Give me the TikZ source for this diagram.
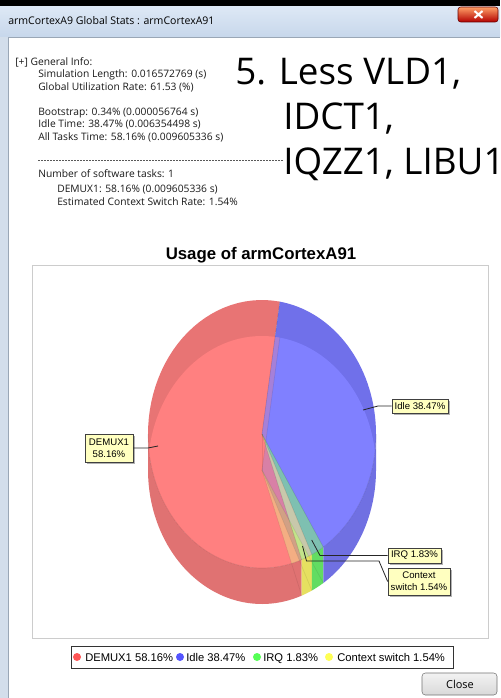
\documentclass[tikz,border=0pt]{standalone}
\usepackage{fontspec}
\newfontfamily\uifont{Open Sans}
\newfontfamily\arfont{Liberation Sans}
\usetikzlibrary{shadows}
\definecolor{framebg}{HTML}{D3DEEB}
\definecolor{tbtop}{HTML}{DDE8F5}
\definecolor{tbbot}{HTML}{C7D7EB}
\definecolor{framebd}{HTML}{9AA7B6}
\definecolor{redD}{HTML}{E87474}
\definecolor{redF}{HTML}{FF8080}
\definecolor{redW}{HTML}{E07272}
\definecolor{blueD}{HTML}{7070EA}
\definecolor{blueF}{HTML}{8080FF}
\definecolor{blueW}{HTML}{7070E2}
\definecolor{greenD}{HTML}{74D888}
\definecolor{greenF}{HTML}{7EDC90}
\definecolor{greenW}{HTML}{62DC62}
\definecolor{yelD}{HTML}{E4E484}
\definecolor{yelF}{HTML}{E8E888}
\definecolor{yelW}{HTML}{E6E060}
\definecolor{lblfill}{HTML}{FFFFC0}
\definecolor{legR}{HTML}{FF5555}
\definecolor{legB}{HTML}{5555FF}
\definecolor{legG}{HTML}{55FF55}
\definecolor{legY}{HTML}{FFFF55}
\def\PX{262}\def\TY{434}\def\BY{470}\def\RX{114}\def\RY{134}
\tikzset{
  sector/.style n args={3}{insert path={(\PX,#1) -- plot[domain=#2:#3,samples=60,variable=\t]({\PX+\RX*cos(\t)},{#1-\RY*sin(\t)}) -- cycle}},
  wall/.style n args={2}{insert path={plot[domain=#1:#2,samples=50,variable=\t]({\PX+\RX*cos(\t)},{\TY-\RY*sin(\t)}) -- plot[domain=#2:#1,samples=50,variable=\t]({\PX+\RX*cos(\t)},{\BY-\RY*sin(\t)}) -- cycle}},
  info/.style={anchor=base west, inner sep=0, font=\uifont\fontsize{7.7}{9}\selectfont, text=black!90},
  big/.style={anchor=base west, inner sep=0, font=\uifont\fontsize{27.6}{30}\selectfont, text=black},
  lbl/.style={draw=black!75, line width=0.5pt, fill=lblfill, inner sep=0, align=center,
    font=\arfont\fontsize{7.2}{9}\selectfont,
    drop shadow={shadow xshift=1.5pt, shadow yshift=-1.5pt, fill=black, opacity=0.3}},
  leader/.style={draw=black!85, line width=0.6pt},
  legtxt/.style={anchor=base west, inner sep=0, font=\arfont\fontsize{8.4}{10}\selectfont},
  legdot/.style={circle, inner sep=0, minimum size=6pt}
}
\begin{document}
\begin{tikzpicture}[x=0.75pt,y=-0.75pt]
\useasboundingbox (0,0) rectangle (500,698);
\clip (0,0) rectangle (500,698);
% window frame
\fill[framebg] (0,0) rectangle (500,698);
\fill[black] (0,0) rectangle (500,7);
\shade[top color=tbtop, bottom color=tbbot] (0,7) rectangle (500,37);
\fill[white] (8,37) rectangle (500,698);
\draw[framebd, line width=0.75pt] (8.5,698) -- (8.5,37.5) -- (500,37.5);
\node[anchor=base west, inner sep=0, font=\uifont\fontsize{7.9}{9}\selectfont] (wtitle) at (8,25) {armCortexA9 Global Stats : armCortexA91};
% close x
\shade[top color=red!25!orange!60!white, bottom color=red!70!black, draw=red!40!black, rounded corners=2pt] (458,7) rectangle (498,22);
\draw[white, line width=1.5pt] (474.5,11) -- (482.5,18) (482.5,11) -- (474.5,18);
% info text
\node[info] (gi) at (15,65.5) {[+] General Info:};
\node[info] (sl) at (38,78) {Simulation Length: 0.016572769 (s)};
\node[info] (gu) at (38,90.5) {Global Utilization Rate: 61.53 (\%)};
\node[info] (bs) at (38,115.5) {Bootstrap: 0.34\% (0.000056764 s)};
\node[info] (it) at (38,128) {Idle Time: 38.47\% (0.006354498 s)};
\node[info] (at) at (38,140.5) {All Tasks Time: 58.16\% (0.009605336 s)};
\coordinate (ds) at (38,160);
\coordinate (de) at (283,160);
\draw[black!65, line width=0.6pt, dash pattern=on 1.5pt off 0.75pt] (ds) -- (de);
\node[info] (nt) at (38,177.5) {Number of software tasks: 1};
\node[info] (dm) at (57,192.5) {DEMUX1: 58.16\% (0.009605336 s)};
\node[info] (ec) at (57,205.5) {Estimated Context Switch Rate: 1.54\%};
% big text
\node[big] (l1) at (235,85) {5. Less VLD1,};
\node[big] (l2) at (283,130) {IDCT1,};
\node[big] (l3) at (283,175) {IQZZ1, LIBU1};
% chart
\node[anchor=base, inner sep=0, font=\arfont\bfseries\fontsize{12.6}{14}\selectfont] (ct) at (261,259) {Usage of armCortexA91};
\draw[black!20, line width=0.75pt] (32,265) rectangle (488,638);
% pie: top face (dark band)
\fill[redD, sector={\TY}{81}{290.38}];
\fill[blueD, sector={\TY}{-57.49}{81}];
\fill[greenD, sector={\TY}{-64.08}{-57.49}];
\fill[yelD, sector={\TY}{-69.62}{-64.08}];
% walls
\fill[redW, wall={180}{290.38}];
\fill[yelW, wall={290.38}{295.92}];
\fill[greenW, wall={295.92}{302.51}];
\fill[blueW, wall={302.51}{360}];
% intersection, light
\begin{scope}
\clip (\PX,\BY) ellipse [x radius=\RX, y radius=\RY];
\fill[redF, sector={\TY}{81}{290.38}];
\fill[blueF, sector={\TY}{-57.49}{81}];
\fill[greenF, sector={\TY}{-64.08}{-57.49}];
\fill[yelF, sector={\TY}{-69.62}{-64.08}];
\end{scope}
\begin{scope}
\clip (\PX,\TY) ellipse [x radius=\RX, y radius=\RY];
\fill[redF, opacity=0.3, sector={\BY}{81}{290.38}];
\fill[blueF, opacity=0.3, sector={\BY}{-57.49}{81}];
\fill[greenF, opacity=0.35, sector={\BY}{-64.08}{-57.49}];
\fill[yelF, opacity=0.45, sector={\BY}{-69.62}{-64.08}];
\end{scope}
% faint slice edges
\foreach \a in {81,-57.49,-64.08,-69.62} {
  \draw[black, opacity=0.12, line width=0.5pt] (\PX,\TY) -- ({\PX+\RX*cos(\a)},{\TY-\RY*sin(\a)});
  \draw[black, opacity=0.08, line width=0.5pt] (\PX,\BY) -- ({\PX+\RX*cos(\a)},{\BY-\RY*sin(\a)});
}
\draw[black, opacity=0.08, line width=0.5pt] (\PX,\TY) -- (\PX,\BY);
\draw[black, opacity=0.1, line width=0.5pt] plot[domain=180:360,samples=80,variable=\t]({\PX+\RX*cos(\t)},{\TY-\RY*sin(\t)});
% labels
\node[lbl, minimum width=42pt, minimum height=10.5pt] (idle) at (420,406) {Idle 38.47\%};
\node[lbl, minimum width=36pt, minimum height=21pt] (demux) at (109,448) {DEMUX1\\58.16\%};
\node[lbl, minimum width=39.75pt, minimum height=11.25pt] (irq) at (414.5,555.5) {IRQ 1.83\%};
\node[lbl, minimum width=46.5pt, minimum height=20.25pt] (ctx) at (419,581.5) {Context\\switch 1.54\%};
\coordinate (pidle) at (363,410);
\coordinate (pdemux) at (158,446);
\coordinate (pirq) at (311.7,540);
\coordinate (pctx) at (302.5,546);
\draw[leader] (pidle) -- (378,406) -- (idle.west);
\draw[leader] (pdemux) -- (148,448) -- (demux.east);
\draw[leader] (pirq) -- (320,555.5) -- (irq.west);
\draw[leader] (pctx) -- (306.5,561) -- (379,561) -- (ctx.west);
% legend
\draw[black!80, line width=0.6pt] (71,646) rectangle (453,668);
\node[legdot, fill=legR] (d1) at (77,657) {};
\node[legtxt] (t1) at (85,661) {DEMUX1 58.16\%};
\node[legdot, fill=legB] (d2) at (180,657) {};
\node[legtxt] (t2) at (186,661) {Idle 38.47\%};
\node[legdot, fill=legG] (d3) at (257,657) {};
\node[legtxt] (t3) at (263,661) {IRQ 1.83\%};
\node[legdot, fill=legY] (d4) at (329,657) {};
\node[legtxt] (t4) at (337,661) {Context switch 1.54\%};
% close button
\shade[top color=white!95!black, bottom color=white!85!black, draw=black!55, rounded corners=2.5pt] (422,673) rectangle (497,695);
\node[inner sep=0, font=\uifont\fontsize{8.2}{10}\selectfont] (closebtn) at (460,684) {Close};
\end{tikzpicture}
\end{document}
